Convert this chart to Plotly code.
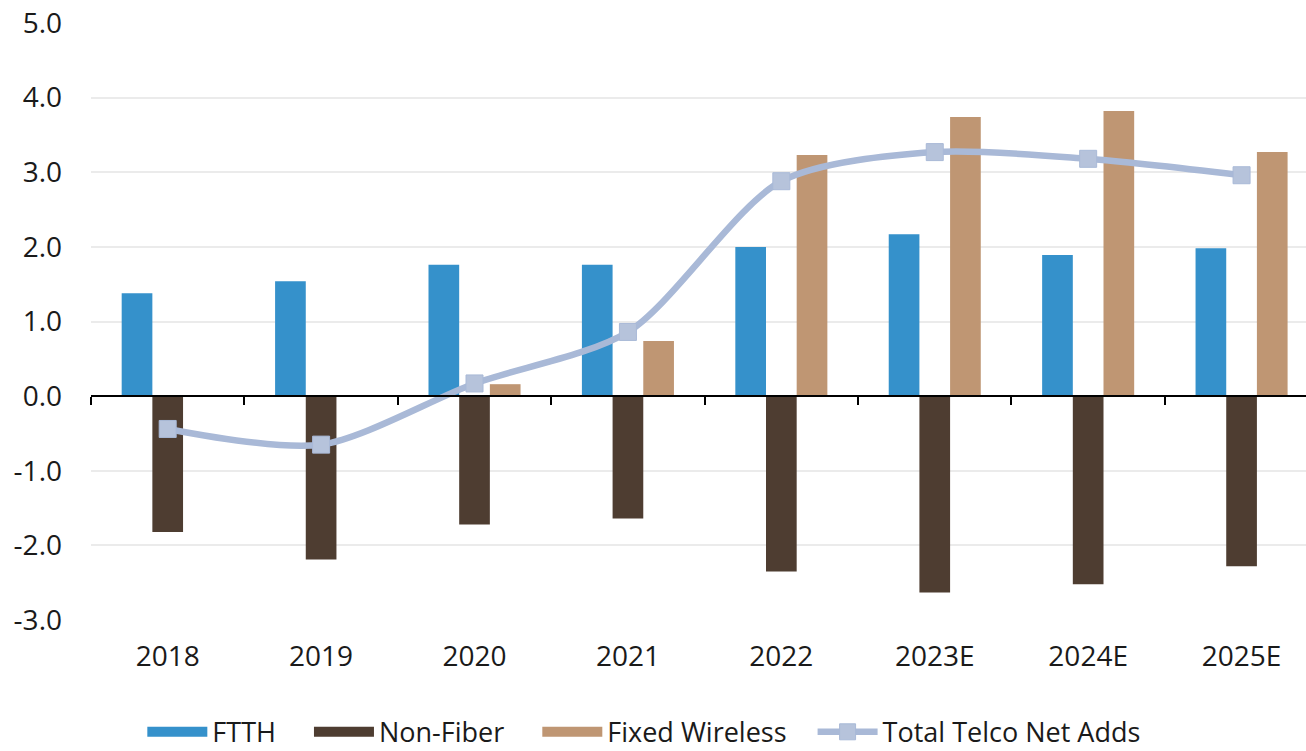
import plotly.graph_objects as go

years = ["2018", "2019", "2020", "2021", "2022", "2023E", "2024E", "2025E"]
ftth = [1.38, 1.54, 1.76, 1.76, 2.00, 2.17, 1.89, 1.98]
non_fiber = [-1.82, -2.19, -1.72, -1.64, -2.35, -2.63, -2.52, -2.28]
fixed_wireless = [0.0, 0.0, 0.16, 0.74, 3.23, 3.74, 3.82, 3.27]
total = [-0.44, -0.65, 0.17, 0.86, 2.88, 3.27, 3.18, 2.96]
y_ticks = [-3, -2, -1, 0, 1, 2, 3, 4, 5]

FONT = "Open Sans"
C_FTTH, C_NF, C_FW, C_TOT = "#3591CB", "#4E3D31", "#BF9673", "#A9B9D7"
NB = "\u00a0"

fig = go.Figure()
for name, vals, col, pad in [("FTTH", ftth, C_FTTH, 4), ("Non-Fiber", non_fiber, C_NF, 4),
                             ("Fixed Wireless", fixed_wireless, C_FW, 3)]:
    fig.add_trace(go.Bar(x=years, y=vals, name=name, legendgroup=name, showlegend=False,
                         marker=dict(color=col, line=dict(width=0))))
    # legend swatch (wide rectangle)
    fig.add_trace(go.Scatter(x=[years[0]], y=[None], name=name + NB * pad, legendgroup=name, mode="lines",
                             line=dict(color=col, width=16), hoverinfo="skip"))
fig.add_trace(go.Scatter(
    x=years, y=total, name="Total Telco Net Adds", mode="lines+markers",
    line=dict(color=C_TOT, width=6.5, shape="spline", smoothing=0.8),
    marker=dict(symbol="square", size=17, color="#B6C3DB", line=dict(color=C_TOT, width=1)),
))
# axis line at zero with boundary ticks
fig.add_trace(go.Scatter(x=years, y=[None]*len(years), xaxis="x2", showlegend=False, hoverinfo="skip"))

yr = [-3, 5]
zero_frac = (0 - yr[0]) / (yr[1] - yr[0])

fig.update_layout(
    width=1306, height=751,
    margin=dict(l=91, r=0, t=23, b=131, autoexpand=False),
    plot_bgcolor="white", paper_bgcolor="white",
    barmode="group", bargap=0.4, bargroupgap=0,
    font=dict(family=FONT, color="#1a1a1a"),
    xaxis=dict(
        type="category", categoryorder="array", categoryarray=years,
        range=[-0.5, 7.42], showgrid=False, showline=False, zeroline=False,
        ticks="", tickfont=dict(size=28, family=FONT), ticklabelstandoff=17, automargin=False,
    ),
    xaxis2=dict(
        type="category", categoryorder="array", categoryarray=years,
        range=[-0.5, 7.42], overlaying="x", anchor="free", position=zero_frac,
        showline=True, linecolor="black", linewidth=2,
        ticks="outside", tickson="boundaries", ticklen=8, tickwidth=2, tickcolor="black",
        showticklabels=False, showgrid=False, zeroline=False,
    ),
    yaxis=dict(
        range=yr, tickvals=y_ticks, ticktext=[f"{v:.1f}" for v in y_ticks],
        showgrid=True, gridcolor="#EBEBEB", gridwidth=1.5, zeroline=False,
        showline=False, ticks="", tickfont=dict(size=28, family=FONT), ticklabelstandoff=28,
        automargin=False,
    ),
    legend=dict(
        orientation="h", x=0.455, xanchor="center", y=-0.147, yanchor="top",
        font=dict(size=27, family=FONT), itemwidth=60, traceorder="normal",
    ),
)

fig.write_html("out.html", config={"displayModeBar": False},
               post_script="document.body.style.margin='0';document.body.style.overflow='hidden';")
